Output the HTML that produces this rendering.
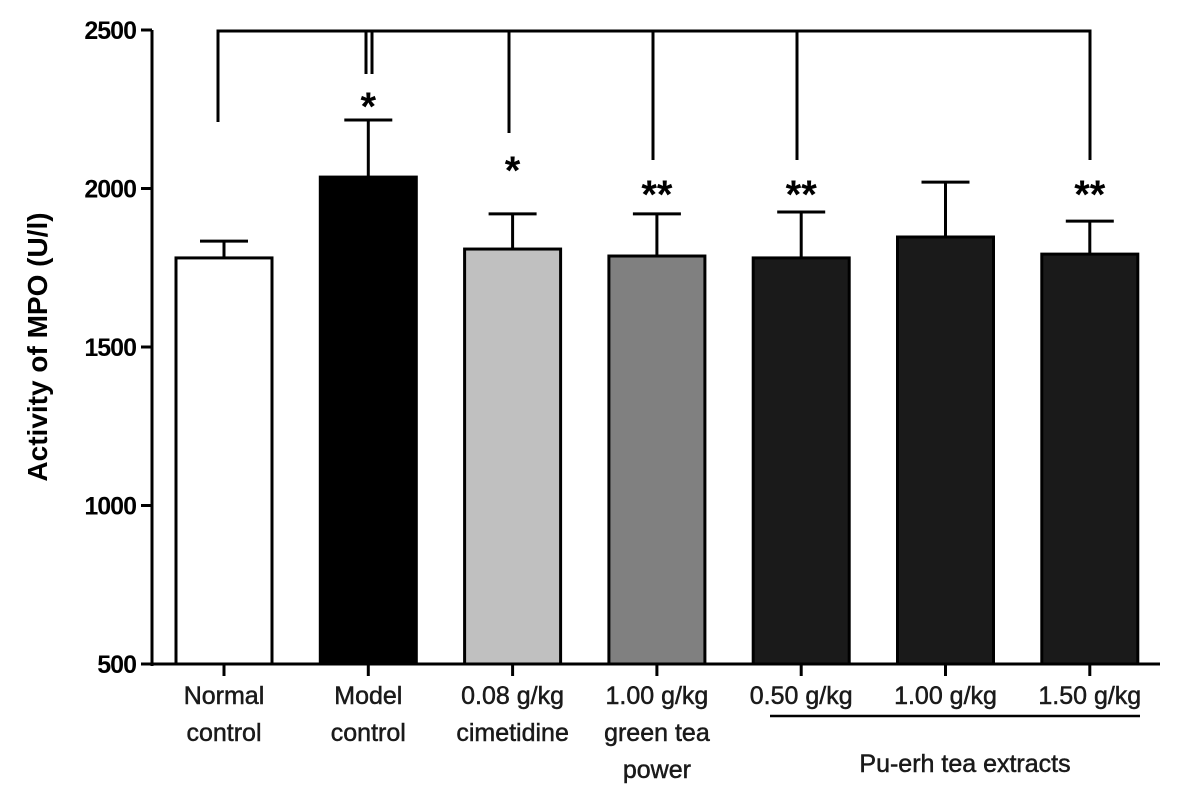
<!DOCTYPE html>
<html><head><meta charset="utf-8"><style>
body{margin:0;background:#fff}
svg text{font-family:"Liberation Sans",Arial,sans-serif}
</style></head><body>
<svg id="chart" width="1181" height="802" viewBox="0 0 1181 802"></svg>
<script>
const categories=[["Normal","control"],["Model","control"],["0.08 g/kg","cimetidine"],["1.00 g/kg","green tea","power"],["0.50 g/kg"],["1.00 g/kg"],["1.50 g/kg"]];
const means=[1781,2036,1809,1787,1781,1847,1793];
const errors=[53,180,111,133,145,173,104];
const fills=["#ffffff","#000000","#c0c0c0","#808080","#1a1a1a","#1a1a1a","#1a1a1a"];
const stars=["","*","*","**","**","","**"];
const yTicks=[500,1000,1500,2000,2500];
const NS="http://www.w3.org/2000/svg";
const svg=document.getElementById('chart');
const y0=664,y1=30,vmin=500,vmax=2500;
function y(v){return y0-(v-vmin)/(vmax-vmin)*(y0-y1);}
function x(i){return 224+i*144.3;}
const bw=96;
function el(t,a,p){const e=document.createElementNS(NS,t);for(const k in a)e.setAttribute(k,a[k]);(p||svg).appendChild(e);return e;}
let ax=el('line',{x1:152,y1:y1,x2:152,y2:y0+2,stroke:'#000','stroke-width':3});


let xa=el('line',{x1:150,y1:y0,x2:1160,y2:y0,stroke:'#000','stroke-width':3});


yTicks.forEach(v=>{
 el('line',{x1:141,y1:y(v),x2:152,y2:y(v),stroke:'#000','stroke-width':3});
 const t=el('text',{x:136,y:y(v)+9,'text-anchor':'end','font-size':25,'font-weight':'bold','letter-spacing':-1});
 t.textContent=v;
 
 
});
const yt=el('text',{x:0,y:0,transform:'translate(47,347) rotate(-90)','text-anchor':'middle','font-size':28,'font-weight':'bold'});
yt.textContent='Activity of MPO (U/l)';


means.forEach((m,i)=>{
 const cx=x(i);
 const e=el('line',{x1:cx,y1:y(m),x2:cx,y2:y(m+errors[i]),stroke:'#000','stroke-width':3});
 
 
 el('line',{x1:cx-24,y1:y(m+errors[i]),x2:cx+24,y2:y(m+errors[i]),stroke:'#000','stroke-width':3});
 const r=el('rect',{x:cx-bw/2,y:y(m),width:bw,height:y0-y(m),fill:fills[i],stroke:'#000','stroke-width':3});
 
 
 el('line',{x1:cx,y1:y0,x2:cx,y2:y0+12,stroke:'#000','stroke-width':3});
 categories[i].forEach((ln,j)=>{
  const t=el('text',{x:cx,y:704+j*37,'text-anchor':'middle','font-size':25,fill:'#1a1a1a',stroke:'#1a1a1a','stroke-width':0.5});
  t.textContent=ln;
  
  
 });
 if(stars[i]){
  const st=el('text',{x:cx,y:i==1?120:(i==2?184:208),'text-anchor':'middle','font-size':40,'font-weight':'bold'});
  st.textContent=stars[i];
  
  
 }
});
const br=el('g',{stroke:'#000','stroke-width':3,fill:'none'});


el('path',{d:'M218 122 V31 H1090 V160'},br);
el('line',{x1:366,y1:31,x2:366,y2:74},br);
el('line',{x1:372,y1:31,x2:372,y2:74},br);
el('line',{x1:509,y1:31,x2:509,y2:133},br);
el('line',{x1:653,y1:31,x2:653,y2:160},br);
el('line',{x1:797,y1:31,x2:797,y2:160},br);
const gl=el('line',{x1:770,y1:716,x2:1140,y2:716,stroke:'#000','stroke-width':2.5});


const gt=el('text',{x:965,y:772,'text-anchor':'middle','font-size':25,fill:'#1a1a1a',stroke:'#1a1a1a','stroke-width':0.5});
gt.textContent='Pu-erh tea extracts';


</script>
</body></html>
